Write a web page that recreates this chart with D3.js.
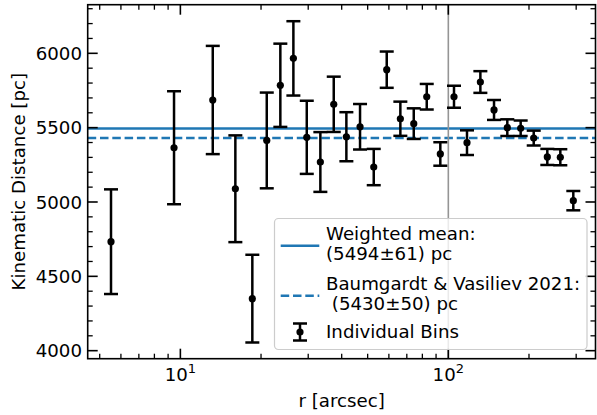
<!DOCTYPE html>
<html>
<head>
<meta charset="utf-8">
<script src="https://cdn.jsdelivr.net/npm/d3@7"></script>
<style>
  html, body { margin: 0; padding: 0; background: #fff; }
  svg text { font-family: "DejaVu Sans", sans-serif; fill: #000; }
</style>
</head>
<body>
<svg id="chart" width="597" height="415"></svg>
<script>
// ---- data ----
const radius = [5.51, 9.47, 13.21, 16.04, 18.56, 21.01, 23.61, 26.41, 29.63, 33.30, 37.36, 41.64, 46.83, 52.68, 58.90, 66.22, 74.30, 83.07, 93.35, 105.0, 117.4, 131.7, 148.1, 166.0, 186.2, 208.3, 234.1, 261.8, 292.7];
const distance = [4733, 5365, 5686, 5089, 4350, 5414, 5785, 5966, 5435, 5269, 5657, 5439, 5506, 5235, 5890, 5560, 5527, 5708, 5323, 5708, 5399, 5807, 5619, 5500, 5496, 5430, 5303, 5301, 5009];
const distErr = [352, 380, 364, 359, 295, 322, 280, 250, 246, 201, 186, 165, 153, 122, 122, 115, 103, 86, 79, 74, 83, 73, 67, 56, 52, 50, 54, 54, 65];
const weightedMean = 5494;
const baumgardt = 5430;
const vlineR = 100;
const yTicks = [4000, 4500, 5000, 5500, 6000];
const xMajor = [10, 100];
const xMajorExp = ["1", "2"];
const xMinor = [5, 6, 7, 8, 9, 20, 30, 40, 50, 60, 70, 80, 90, 200, 300];
const legendLabels = [["Weighted mean:", "(5494\u00B161) pc"], ["Baumgardt & Vasiliev 2021:", " (5430\u00B150) pc"], ["Individual Bins"]];

// ---- layout ----
const L = 87.7, R = 595.5, T = 4.7, B = 358.7;
const svg = d3.select("#chart");
const x = d3.scaleLog().domain([4.51, 354.2]).range([L, R]);
const y = d3.scaleLinear().domain([3946, 6327]).range([B, T]);
const blue = "#1f77b4";
const fs = 18.2;

const yMinor = d3.range(4000, 6301, 100).filter(v => v % 500 !== 0);

const plot = svg.append("g");

// horizontal reference lines
plot.append("line").attr("x1", L).attr("x2", R).attr("y1", y(weightedMean)).attr("y2", y(weightedMean))
  .attr("stroke", blue).attr("stroke-width", 2.4);
plot.append("line").attr("x1", L).attr("x2", R).attr("y1", y(baumgardt)).attr("y2", y(baumgardt))
  .attr("stroke", blue).attr("stroke-width", 2.4).attr("stroke-dasharray", "8.5,3.8");

// vertical line
plot.append("line").attr("x1", x(vlineR)).attr("x2", x(vlineR)).attr("y1", T).attr("y2", B)
  .attr("stroke", "#959595").attr("stroke-width", 1.6);

// error bars
const eb = plot.append("g").attr("stroke", "#000").attr("stroke-width", 2.5);
radius.forEach((r, i) => {
  const cx = x(r), y1 = y(distance[i] + distErr[i]), y0 = y(distance[i] - distErr[i]);
  eb.append("line").attr("x1", cx).attr("x2", cx).attr("y1", y1).attr("y2", y0);
  eb.append("line").attr("x1", cx - 7).attr("x2", cx + 7).attr("y1", y1).attr("y2", y1);
  eb.append("line").attr("x1", cx - 7).attr("x2", cx + 7).attr("y1", y0).attr("y2", y0);
});
plot.append("g").selectAll("circle").data(radius).join("circle")
  .attr("cx", d => x(d)).attr("cy", (d, i) => y(distance[i])).attr("r", 3.6).attr("fill", "#000");

// ticks (inward, all four sides)
const tk = svg.append("g").attr("stroke", "#000");
function hTick(v, len, w) {
  tk.append("line").attr("x1", L).attr("x2", L + len).attr("y1", y(v)).attr("y2", y(v)).attr("stroke-width", w);
  tk.append("line").attr("x1", R).attr("x2", R - len).attr("y1", y(v)).attr("y2", y(v)).attr("stroke-width", w);
}
function vTick(v, len, w) {
  tk.append("line").attr("y1", B).attr("y2", B - len).attr("x1", x(v)).attr("x2", x(v)).attr("stroke-width", w);
  tk.append("line").attr("y1", T).attr("y2", T + len).attr("x1", x(v)).attr("x2", x(v)).attr("stroke-width", w);
}
yTicks.forEach(v => hTick(v, 10, 1.6));
yMinor.forEach(v => hTick(v, 5, 1.3));
xMajor.forEach(v => vTick(v, 10, 1.6));
xMinor.forEach(v => vTick(v, 5, 1.3));

// frame
svg.append("rect").attr("x", L).attr("y", T).attr("width", R - L).attr("height", B - T)
  .attr("fill", "none").attr("stroke", "#000").attr("stroke-width", 1.6);

// tick labels
svg.append("g").selectAll("text").data(yTicks).join("text")
  .attr("x", 82).attr("y", d => y(d)).attr("dy", "0.36em").attr("text-anchor", "end")
  .attr("font-size", fs).text(d => d);
xMajor.forEach((v, i) => {
  const t = svg.append("text").attr("x", x(v)).attr("y", 380.5).attr("text-anchor", "middle").attr("font-size", fs);
  t.append("tspan").text("10");
  t.append("tspan").attr("font-size", 13).attr("dy", -7.5).text(xMajorExp[i]);
});

// axis labels
svg.append("text").attr("x", (L + R) / 2).attr("y", 406.5).attr("text-anchor", "middle").attr("font-size", fs).text("r [arcsec]");
svg.append("text").attr("transform", `translate(25,${(T + B) / 2}) rotate(-90)`).attr("text-anchor", "middle")
  .attr("font-size", fs).text("Kinematic Distance [pc]");

// legend
const lg = svg.append("g");
lg.append("rect").attr("x", 274.5).attr("y", 218.5).attr("width", 312.5).attr("height", 131).attr("rx", 4)
  .attr("fill", "#fff").attr("fill-opacity", 0.8).attr("stroke", "#ccc").attr("stroke-width", 1.2);
const hx0 = 280.7, hx1 = 319.3, tx = 326;
lg.append("line").attr("x1", hx0).attr("x2", hx1).attr("y1", 245.7).attr("y2", 245.7).attr("stroke", blue).attr("stroke-width", 2.4);
lg.append("line").attr("x1", hx0).attr("x2", hx1).attr("y1", 295.7).attr("y2", 295.7).attr("stroke", blue).attr("stroke-width", 2.4).attr("stroke-dasharray", "8.5,3.8");
const hc = (hx0 + hx1) / 2;
lg.append("line").attr("x1", hc).attr("x2", hc).attr("y1", 323.5).attr("y2", 340.5).attr("stroke", "#000").attr("stroke-width", 2.5);
lg.append("line").attr("x1", hc - 7).attr("x2", hc + 7).attr("y1", 323.5).attr("y2", 323.5).attr("stroke", "#000").attr("stroke-width", 2.5);
lg.append("line").attr("x1", hc - 7).attr("x2", hc + 7).attr("y1", 340.5).attr("y2", 340.5).attr("stroke", "#000").attr("stroke-width", 2.5);
lg.append("circle").attr("cx", hc).attr("cy", 332).attr("r", 3.6).attr("fill", "#000");
const baselines = [[239.5, 260], [289.5, 310], [338.3]];
legendLabels.forEach((lines, i) => {
  lines.forEach((s, j) => {
    lg.append("text").attr("x", tx).attr("y", baselines[i][j]).attr("font-size", fs)
      .style("white-space", "pre").text(s);
  });
});
</script>
</body>
</html>
